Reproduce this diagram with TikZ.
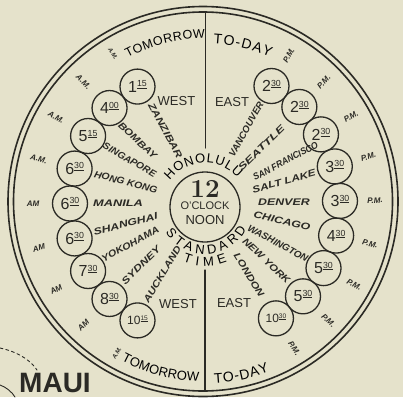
\documentclass[tikz,border=0pt]{standalone}
\usepackage{fontspec}
\setsansfont{Liberation Sans}
\usetikzlibrary{calc, decorations.text}
\definecolor{chartink}{HTML}{2B2A25}
\definecolor{chartpaper}{HTML}{E5E2CB}
\newcommand{\clocktime}[2]{#1\raisebox{0.33em}{\scalebox{0.55}{\underline{#2}}}}

\begin{document}
\begin{tikzpicture}[x=1pt, y=1pt, line cap=round, chartink,
    bubble/.style={draw, circle, line width=1.3pt, minimum size=35pt, inner sep=0pt},
    city/.style={font=\sffamily\bfseries\itshape\fontsize{9.5}{9.5}\selectfont, inner sep=0pt},
    ampm/.style={font=\sffamily\bfseries\itshape\fontsize{8}{8}\selectfont, inner sep=0pt},
    meridian/.style={font=\sffamily\fontsize{13}{13}\selectfont, inner sep=0pt},
    arclabel/.style={decorate, decoration={text along path, text align=fit to path}}]
  \fill[chartpaper] (0,0) rectangle (403,397);
  \useasboundingbox (0,0) rectangle (403,397);
  \coordinate (ctr) at (205,193.5);
  \coordinate (ring) at (203,195.5);
  \coordinate (hub) at (205,190);
  \draw[line width=1.6pt] (ring) circle[radius=195];
  \draw[line width=1.6pt] (ring) circle[radius=189.5];
  \coordinate (ntop) at (205.5,385);
  \coordinate (nend) at (205.5,249);
  \coordinate (sbot) at (205,6);
  \coordinate (send) at (205,127);
  \draw[line width=1.1pt] (ntop) -- (nend);
  \draw[line width=1.1pt] (sbot) -- (send);
  % twelve o'clock at the hub
  \node[draw, circle, line width=1.3pt, minimum size=70pt, inner sep=0pt] (noon) at (hub) {};
  \node[font=\rmfamily\bfseries\fontsize{26}{26}\selectfont, inner sep=0pt] (twelve) at (205,208.5) {12};
  \node[font=\sffamily\fontsize{11}{11}\selectfont, inner sep=0pt] (oclock) at (205,191) {O'CLOCK};
  \node[font=\sffamily\fontsize{13}{13}\selectfont, inner sep=0pt] (noonword) at (205,177) {NOON};
  \begin{scope}[shift={(hub)}]
    \path[arclabel, decoration={text={|\sffamily\fontsize{13}{13}\selectfont|HONOLULU}}]
      (143:44) arc[start angle=143, end angle=42, radius=44];
    \path[arclabel, decoration={text={|\sffamily\fontsize{13}{13}\selectfont|STANDARD}}]
      (213:47) arc[start angle=213, end angle=332, radius=47];
    \path[arclabel, decoration={text={|\sffamily\fontsize{13}{13}\selectfont|TIME}}]
      (248:59) arc[start angle=248, end angle=292, radius=59];
  \end{scope}
  \node[meridian] (westn) at (176.5,296) {WEST};
  \node[meridian] (eastn) at (232,295) {EAST};
  \node[meridian] (wests) at (178,93) {WEST};
  \node[meridian] (easts) at (234,94) {EAST};
  \begin{scope}[shift={(ctr)}]
    \foreach \a/\h/\m/\s [count=\i] in {120/1/15/16, 135/4/00/16, 150/5/15/16, 165/6/30/16,
        180/6/30/16, 195/6/30/16, 210/7/30/16, 225/8/30/16, 240/10/15/12}
      \node[bubble, font=\sffamily\fontsize{\s}{\s}\selectfont] (w\i) at (\a:135) {\clocktime{\h}{\m}};
    \foreach \a/\h/\m/\s [count=\i] in {60.5/2/30/16, 45.65/2/30/16, 30.8/2/30/16, 15.95/3/30/16,
        1.1/3/30/16, -13.75/4/30/16, -28.6/5/30/16, -43.45/5/30/16, -58.3/10/30/12}
      \node[bubble, font=\sffamily\fontsize{\s}{\s}\selectfont] (e\i) at (\a:135) {\clocktime{\h}{\m}};
    \foreach \a/\r/\s/\n [count=\i] in {118.5/83/1.26/ZANZIBAR, 137/92/1.18/BOMBAY,
        150/87/1.05/SINGAPORE, 165/82/1.09/HONG KONG, 180/87/1.35/MANILA, 194.5/82/1.3/SHANGHAI,
        208.6/85/1.13/YOKOHAMA, 224/89/1.28/SYDNEY, 239/83/1.19/AUCKLAND}
      \node[city, rotate=\a+180, xscale=\s] (cw\i) at (\a:\r) {\n};
    \foreach \a/\r/\s/\n [count=\i] in {61/85/1.02/VANCOUVER, 44.5/79/1.43/SEATTLE,
        27.8/91/0.91/SAN FRANCISCO, 15.6/82/1.24/SALT LAKE, 1/79/1.31/DENVER, -12.8/79/1.29/CHICAGO,
        -28.6/83/1.03/WASHINGTON, -43/84/1.17/NEW YORK, -58.4/84/1.19/LONDON}
      \node[city, rotate=\a, xscale=\s] (ce\i) at (\a:\r) {\n};
    \foreach \a/\t [count=\i] in {135/A.M., 150/A.M., 165/A.M., 180/AM, 195/AM, 210/AM, 225/AM}
      \node[ampm, rotate=\a+180] (am\i) at (\a:172) {\t};
    \foreach \a [count=\i] in {60.5, 45.65, 30.8, 15.95, 1.1, -13.75, -28.6, -43.45, -58.3}
      \node[ampm, rotate=\a] (pm\i) at (\a:170) {P.M.};
    \node[ampm, font=\sffamily\bfseries\itshape\fontsize{6}{6}\selectfont, rotate=-58.5] (amn) at (121.5:176) {A.M.};
    \node[ampm, font=\sffamily\bfseries\itshape\fontsize{6}{6}\selectfont, rotate=59.5] (ams) at (239.5:174) {A.M.};
    \path[arclabel, decoration={text={|\sffamily\fontsize{12.5}{12.5}\selectfont|TOMORROW}}]
      (118:165) arc[start angle=118, end angle=90, radius=165];
    \path[arclabel, decoration={text={|\sffamily\fontsize{14}{14}\selectfont|TO-DAY}}]
      (87:160) arc[start angle=87, end angle=66, radius=160];
    \path[arclabel, decoration={text={|\sffamily\fontsize{13}{13}\selectfont|TOMORROW}}]
      (242:178) arc[start angle=242, end angle=268, radius=178];
    \path[arclabel, decoration={text={|\sffamily\fontsize{14}{14}\selectfont|TO-DAY}}]
      (273:180) arc[start angle=273, end angle=291, radius=180];
  \end{scope}
  % island in the corner
  \node[font=\sffamily\bfseries\fontsize{28}{28}\selectfont, inner sep=0pt] (maui) at (55,14.5) {MAUI};
  \draw[dashed, line width=0.9pt] (0,49) .. controls (15,46) and (30,38) .. (37,27);
  \draw[line width=0.9pt] (0,12) .. controls (6,10) and (12,5) .. (15,0);
\end{tikzpicture}
\end{document}
